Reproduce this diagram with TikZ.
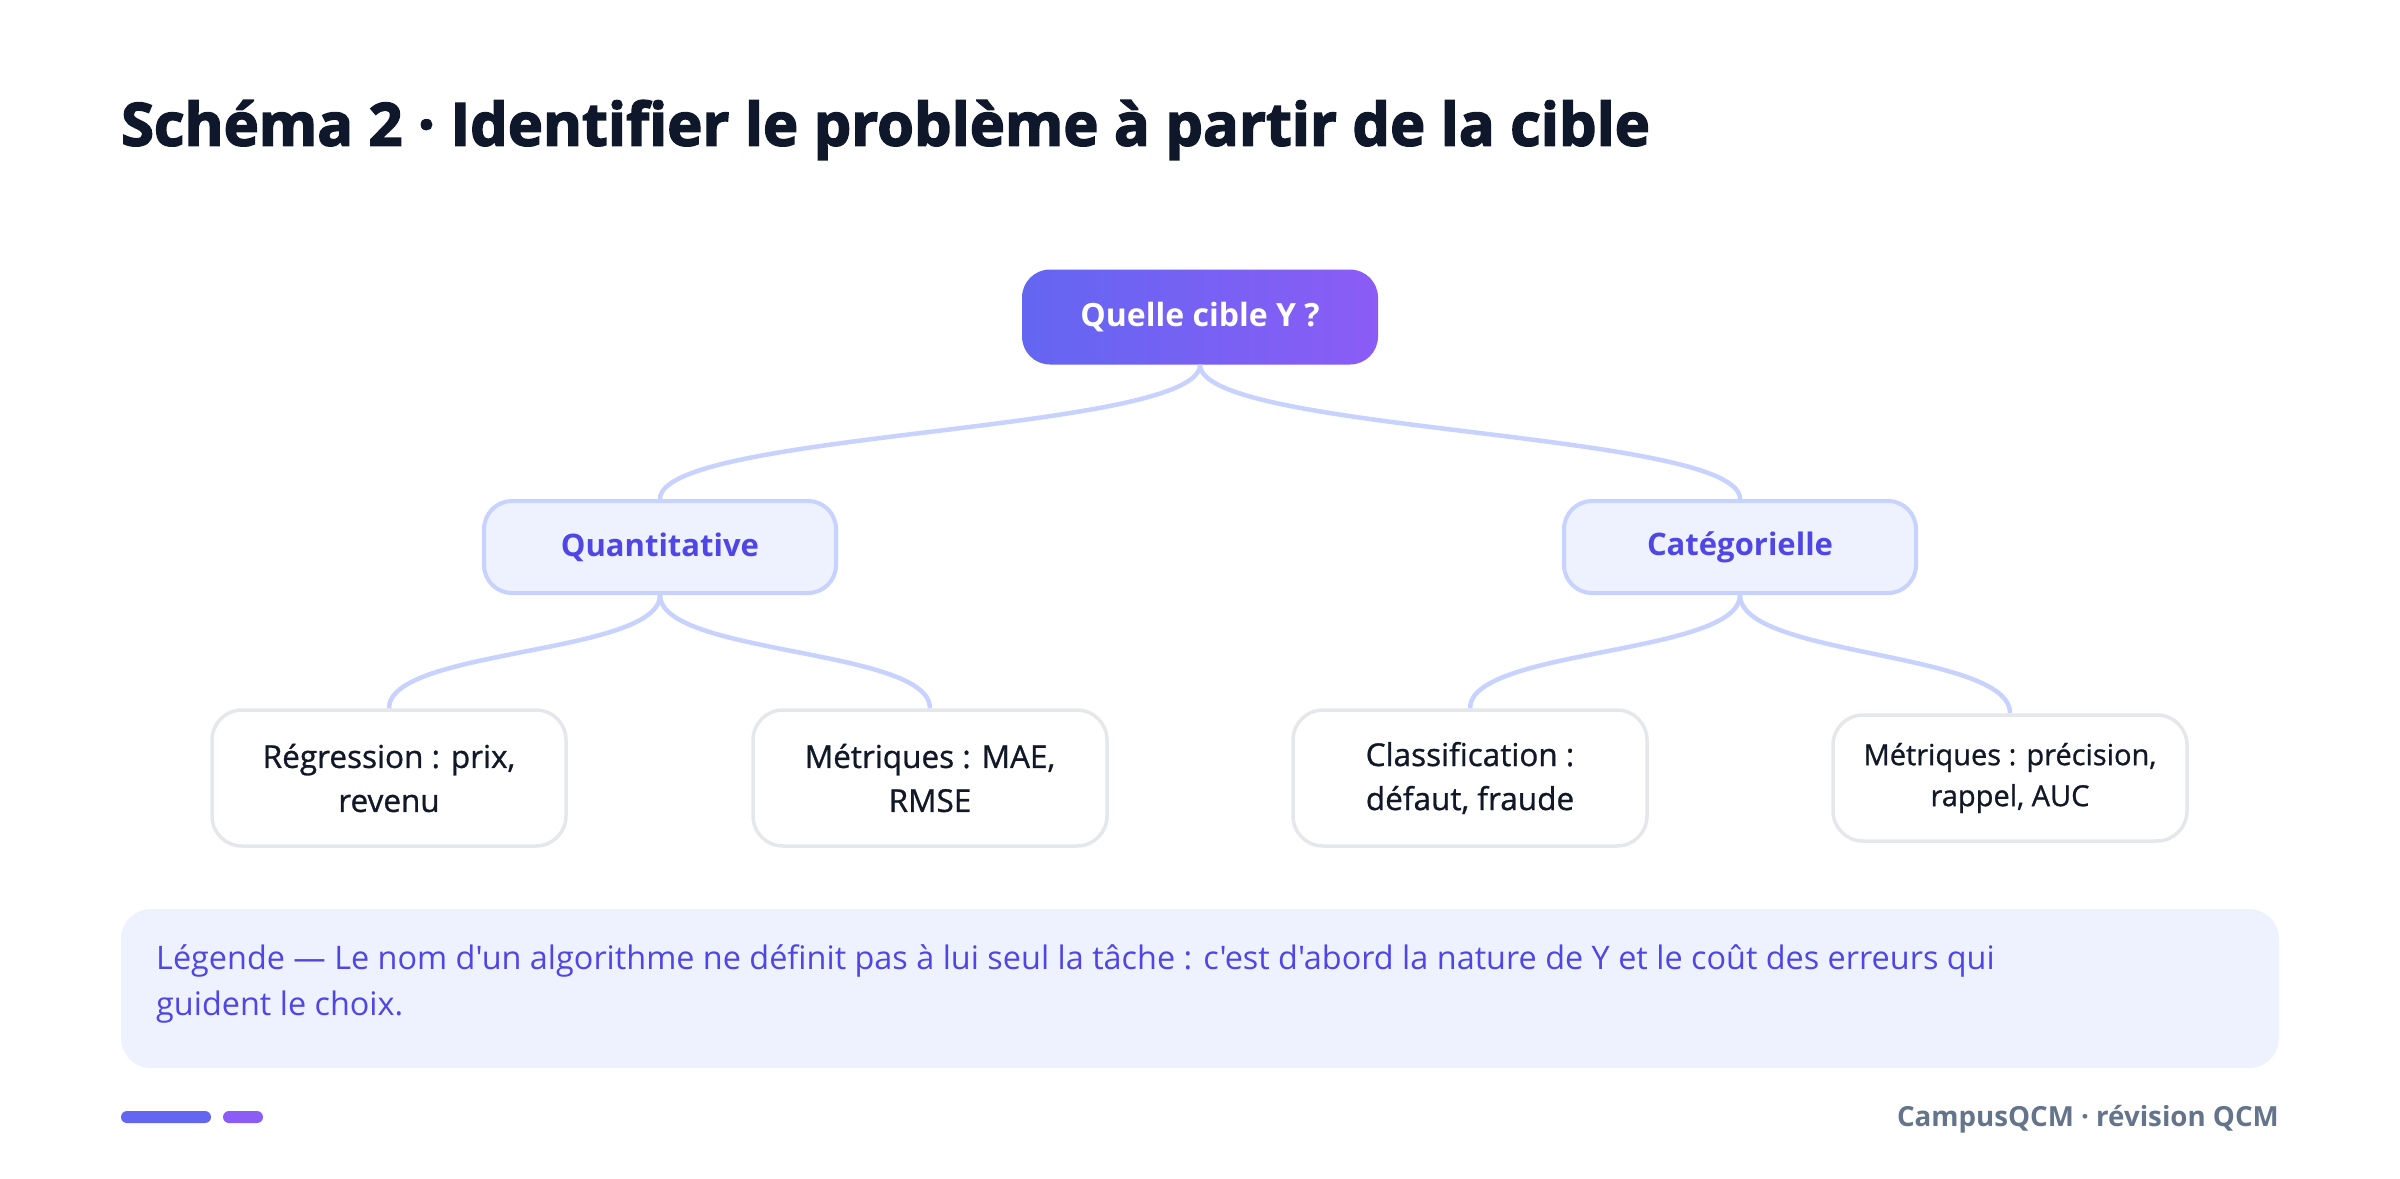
\documentclass[tikz,border=0pt]{standalone}
\usepackage{fontspec}
\setmainfont[Ligatures=TeXOff]{Open Sans}
\newfontfamily\heavyfont[Ligatures=TeXOff,BoldFeatures={FakeBold=2.5}]{Open Sans}
\newfontfamily\medfont[Ligatures=TeXOff,FakeBold=0.9]{Open Sans}
\definecolor{titleink}{HTML}{0F172A}
\definecolor{ink}{HTML}{111827}
\definecolor{indigoA}{HTML}{6366F1}
\definecolor{violetA}{HTML}{8B5CF6}
\definecolor{indigoText}{HTML}{4F46E5}
\definecolor{lineC}{HTML}{C7D2FE}
\definecolor{paleFill}{HTML}{EEF2FF}
\definecolor{leafBorder}{HTML}{E5E7EB}
\definecolor{footGray}{HTML}{64748B}
\tikzset{
  rootbox/.style={rounded corners=28pt, left color=indigoA, right color=violetA,
    minimum width=356pt, minimum height=95pt, inner sep=0pt, text=white,
    font=\fontsize{32}{36}\selectfont\bfseries},
  midbox/.style={rounded corners=28pt, draw=lineC, line width=4pt, fill=paleFill,
    minimum width=352pt, minimum height=92pt, inner sep=0pt, text=indigoText,
    font=\fontsize{31}{36}\selectfont\bfseries},
  leafbox/.style={rounded corners=30pt, draw=leafBorder, line width=3.5pt, fill=white,
    minimum width=354pt, minimum height=136pt, inner sep=0pt, text=ink, align=center,
    font=\fontsize{31.5}{44}\selectfont\medfont},
  conn/.style={draw=lineC, line width=4.5pt},
}
\begin{document}
\begin{tikzpicture}[x=1pt,y=-1pt]
\useasboundingbox[fill=white] (0,0) rectangle (2400,1178);
% title
\node[anchor=west, text=titleink, inner sep=0pt, font=\fontsize{59.5}{64}\selectfont\heavyfont\bfseries] (title) at (121,130) {Schéma 2 · Identifier le problème à partir de la cible};
% nodes
\node[rootbox] (root) at (1200,317) {Quelle cible Y ?};
\node[midbox] (quant) at (660,547) {Quantitative};
\node[midbox] (cat) at (1740,547) {Catégorielle};
\node[leafbox] (reg) at (389,778) {Régression : prix,\\revenu};
\node[leafbox] (mae) at (930,778) {Métriques : MAE,\\RMSE};
\node[leafbox] (cla) at (1470,778) {Classification :\\défaut, fraude};
\node[leafbox, minimum height=126pt, font=\fontsize{29}{41}\selectfont\medfont] (prec) at (2010,778) {Métriques : précision,\\rappel, AUC};
% connectors
\draw[conn] (root.south) .. controls +(0,68) and +(0,-68) .. (quant.north);
\draw[conn] (root.south) .. controls +(0,68) and +(0,-68) .. (cat.north);
\draw[conn] (quant.south) .. controls +(0,60) and +(0,-60) .. (reg.north);
\draw[conn] (quant.south) .. controls +(0,60) and +(0,-60) .. (mae.north);
\draw[conn] (cat.south) .. controls +(0,60) and +(0,-60) .. (cla.north);
\draw[conn] (cat.south) .. controls +(0,62) and +(0,-62) .. (prec.north);
% legend
\node[rounded corners=30pt, fill=paleFill, minimum width=2158pt, minimum height=159pt, inner sep=0pt] (legend) at (1200,988.5) {};
\node[anchor=north west, text=indigoText, align=left, inner sep=0pt, font=\fontsize{32.4}{46}\selectfont] (legtext) at (156,944) {Légende — Le nom d'un algorithme ne définit pas à lui seul la tâche : c'est d'abord la nature de Y et le coût des erreurs qui\\guident le choix.};
% footer
\fill[indigoA, rounded corners=6pt] (121,1111) rectangle (211,1123);
\fill[violetA, rounded corners=6pt] (223,1111) rectangle (263,1123);
\node[anchor=east, text=footGray, inner sep=0pt, font=\fontsize{27.7}{32}\selectfont\bfseries] (foot) at (2279,1119) {CampusQCM · révision QCM};
\end{tikzpicture}
\end{document}
